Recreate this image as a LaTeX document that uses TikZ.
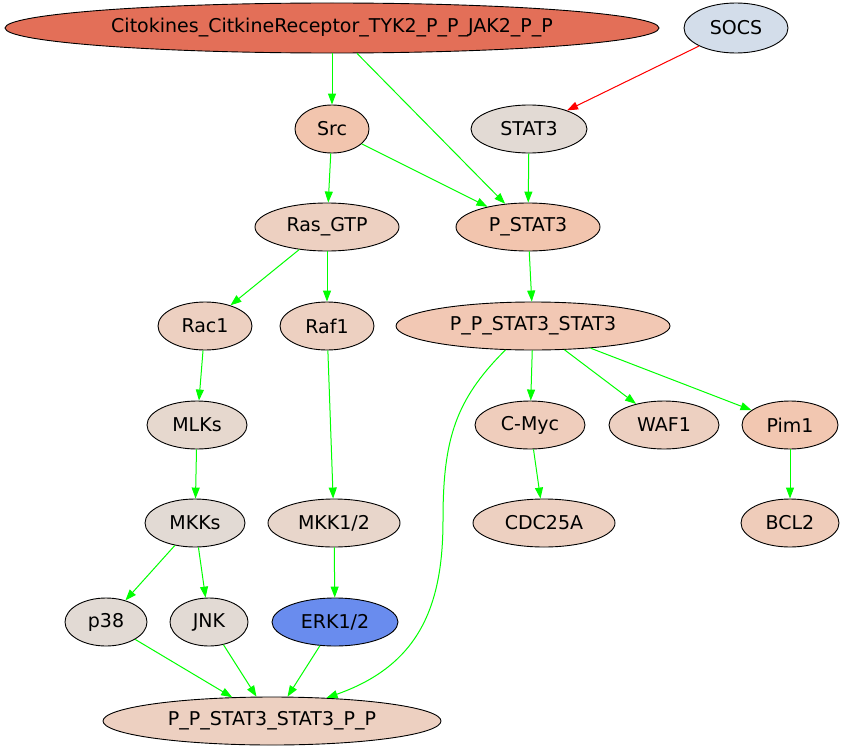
\documentclass[tikz,border=0pt]{standalone}
\usepackage{fontspec}
\setmainfont{DejaVu Sans}
\usetikzlibrary{shapes.geometric,arrows.meta}

\definecolor{cRec}{RGB}{227,111,88}
\definecolor{cSocs}{RGB}{211,221,234}
\definecolor{cHot}{RGB}{242,197,174}
\definecolor{cGrey}{RGB}{226,218,212}
\definecolor{cWarm}{RGB}{237,208,193}
\definecolor{cMid}{RGB}{232,214,203}
\definecolor{cErk}{RGB}{105,140,238}

\tikzset{
  mol/.style={ellipse, draw=black, line width=0.9pt, inner sep=0pt,
              minimum height=48, font=\fontsize{19}{22}\selectfont},
  act/.style={draw={rgb,255:red,0;green,255;blue,0}, line width=1pt,
              -{Triangle[length=11pt,width=8pt]}},
  inh/.style={draw={rgb,255:red,255;green,0;blue,0}, line width=1pt,
              -{Triangle[length=11pt,width=8pt]}, fill=red},
}

\begin{document}
\begin{tikzpicture}[x=1pt,y=-1pt]
\useasboundingbox (0,0) rectangle (845,752);

% receptor complex and its regulators
\node[mol, fill=cRec, minimum width=654, minimum height=50] (cito) at (332,28) {Citokines\_CitkineReceptor\_TYK2\_P\_P\_JAK2\_P\_P};
\node[mol, fill=cSocs, minimum width=104, minimum height=50] (socs) at (736,28) {SOCS};
\node[mol, fill=cHot, minimum width=74] (src) at (332,129) {Src};
\node[mol, fill=cGrey, minimum width=116] (stat3) at (529,129) {STAT3};
\node[mol, fill=cWarm, minimum width=144] (ras) at (327,227) {Ras\_GTP};
\node[mol, fill=cHot, minimum width=144] (pstat3) at (528,227) {P\_STAT3};

% kinase cascades
\node[mol, fill=cWarm, minimum width=94] (rac1) at (205,326) {Rac1};
\node[mol, fill=cWarm, minimum width=94] (raf1) at (327,326) {Raf1};
\node[mol, fill={rgb,255:red,242;green,200;blue,180}, minimum width=274] (ppss) at (533,326) {P\_P\_STAT3\_STAT3};
\node[mol, fill={rgb,255:red,230;green,216;blue,206}, minimum width=100] (mlks) at (197,425) {MLKs};
\node[mol, fill={rgb,255:red,239;green,205;blue,188}, minimum width=110] (cmyc) at (530,425) {C-Myc};
\node[mol, fill=cWarm, minimum width=110] (waf1) at (664,425) {WAF1};
\node[mol, fill={rgb,255:red,242;green,199;blue,177}, minimum width=96] (pim1) at (790,425) {Pim1};
\node[mol, fill=cGrey, minimum width=100] (mkks) at (195,523) {MKKs};
\node[mol, fill=cMid, minimum width=132] (mkk12) at (334,523) {MKK1/2};
\node[mol, fill=cWarm, minimum width=142] (cdc25a) at (544,523) {CDC25A};
\node[mol, fill={rgb,255:red,239;green,204;blue,186}, minimum width=98] (bcl2) at (790,523) {BCL2};
\node[mol, fill=cGrey, minimum width=82] (p38) at (106,622) {p38};
\node[mol, fill=cGrey, minimum width=78] (jnk) at (209,622) {JNK};
\node[mol, fill=cErk, minimum width=126] (erk) at (335,622) {ERK1/2};
\node[mol, fill=cWarm, minimum width=338] (ppsspp) at (272,721) {P\_P\_STAT3\_STAT3\_P\_P};

% interactions
\draw[act] (cito) -- (src);
\draw[act] (cito) -- (pstat3);
\draw[inh] (socs) -- (stat3);
\draw[act] (src) -- (ras);
\draw[act] (src) -- (pstat3);
\draw[act] (stat3) -- (pstat3);
\draw[act] (ras) -- (rac1);
\draw[act] (ras) -- (raf1);
\draw[act] (pstat3) -- (ppss);
\draw[act] (rac1) -- (mlks);
\draw[act] (raf1) -- (mkk12);
\draw[act] (ppss) -- (cmyc);
\draw[act] (ppss) -- (waf1);
\draw[act] (ppss) -- (pim1);
\coordinate (bend) at (443,520);
\draw[act] (ppss.221) .. controls (455,400) and (443,440) .. (bend)
           .. controls (443,605) and (420,665) .. (ppsspp.23);
\draw[act] (mlks) -- (mkks);
\draw[act] (mkk12) -- (erk);
\draw[act] (cmyc) -- (cdc25a);
\draw[act] (pim1) -- (bcl2);
\draw[act] (mkks) -- (p38);
\draw[act] (mkks) -- (jnk);
\draw[act] (p38) -- (ppsspp);
\draw[act] (jnk) -- (ppsspp);
\draw[act] (erk) -- (ppsspp);
\end{tikzpicture}
\end{document}
